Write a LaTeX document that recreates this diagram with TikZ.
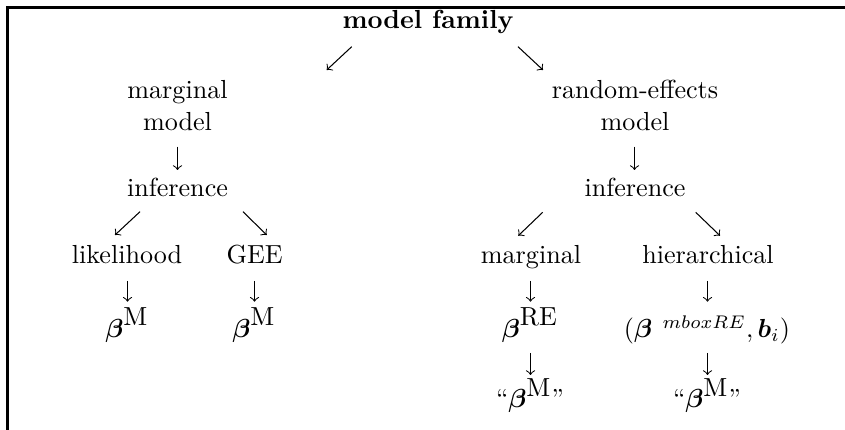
\documentclass[tikz,border=0pt]{standalone}
\usepackage{amsmath}
\begin{document}
\begin{tikzpicture}[x=0.383pt,y=-0.383pt,
  lbl/.style={anchor=base,inner sep=0pt,outer sep=0pt},
  conn/.style={-to,line width=0.4pt},
  frameline/.style={line width=0.8pt}]
\useasboundingbox (0,0) rectangle (845,430);
\draw[frameline] (7.5,430) -- (7.5,7.5) -- (845,7.5);
% labels
\node[lbl] (top) at (428,28.3) {\textbf{model family}};
\node[lbl] (mm1) at (177.5,99) {marginal};
\node[lbl] (mm2) at (177.5,131) {model};
\node[lbl] (minf) at (177.5,197) {inference};
\node[lbl] (re1) at (635,99) {random-effects};
\node[lbl] (re2) at (635,131) {model};
\node[lbl] (reinf) at (635,197) {inference};
\node[lbl] (lik) at (127,263.3) {likelihood};
\node[lbl] (gee) at (254.7,263.3) {GEE};
\node[lbl] (bm1) at (127,337.5) {$\boldsymbol{\beta}^{\mbox{M}}$};
\node[lbl] (bm2) at (254,337.5) {$\boldsymbol{\beta}^{\mbox{M}}$};
\node[lbl] (marg) at (531,263.3) {marginal};
\node[lbl] (hier) at (708,263.3) {hierarchical};
\node[lbl] (bre) at (530,337.5) {$\boldsymbol{\beta}^{\mbox{RE}}$};
\node[lbl] (bhier) at (707,337.5) {$(\boldsymbol{\beta}\hspace{4pt}^{mboxRE},\boldsymbol{b}_i)$};
\node[lbl] (q1) at (530,408) {``$\boldsymbol{\beta}^{\mbox{M}}$''};
\node[lbl] (q2) at (707,408) {``$\boldsymbol{\beta}^{\mbox{M}}$''};
% connector ends
\coordinate (a1s) at (351.7,46.7); \coordinate (a1e) at (326.7,70);
\coordinate (a2s) at (518,46.7);   \coordinate (a2e) at (543,70);
\coordinate (a3s) at (177.5,146.7); \coordinate (a3e) at (177.5,170);
\coordinate (a4s) at (634.5,146.7);  \coordinate (a4e) at (634.5,170);
\coordinate (a5s) at (140,211.7);  \coordinate (a5e) at (115,235);
\coordinate (a6s) at (243,211.7);  \coordinate (a6e) at (266.7,235);
\coordinate (a7s) at (542.7,212.3); \coordinate (a7e) at (518.3,235.7);
\coordinate (a8s) at (695.7,212.3); \coordinate (a8e) at (720,235.7);
\coordinate (a9s) at (127.5,281);  \coordinate (a9e) at (127.5,301.7);
\coordinate (a10s) at (254.5,281);   \coordinate (a10e) at (254.5,301.7);
\coordinate (a11s) at (530.5,281);   \coordinate (a11e) at (530.5,301.7);
\coordinate (a12s) at (707.5,281); \coordinate (a12e) at (707.5,301.7);
\coordinate (a13s) at (530.5,353);   \coordinate (a13e) at (530.5,375);
\coordinate (a14s) at (707.5,353); \coordinate (a14e) at (707.5,375);
\foreach \i in {1,...,14}{\draw[conn] (a\i s) -- (a\i e);}
\end{tikzpicture}
\end{document}
